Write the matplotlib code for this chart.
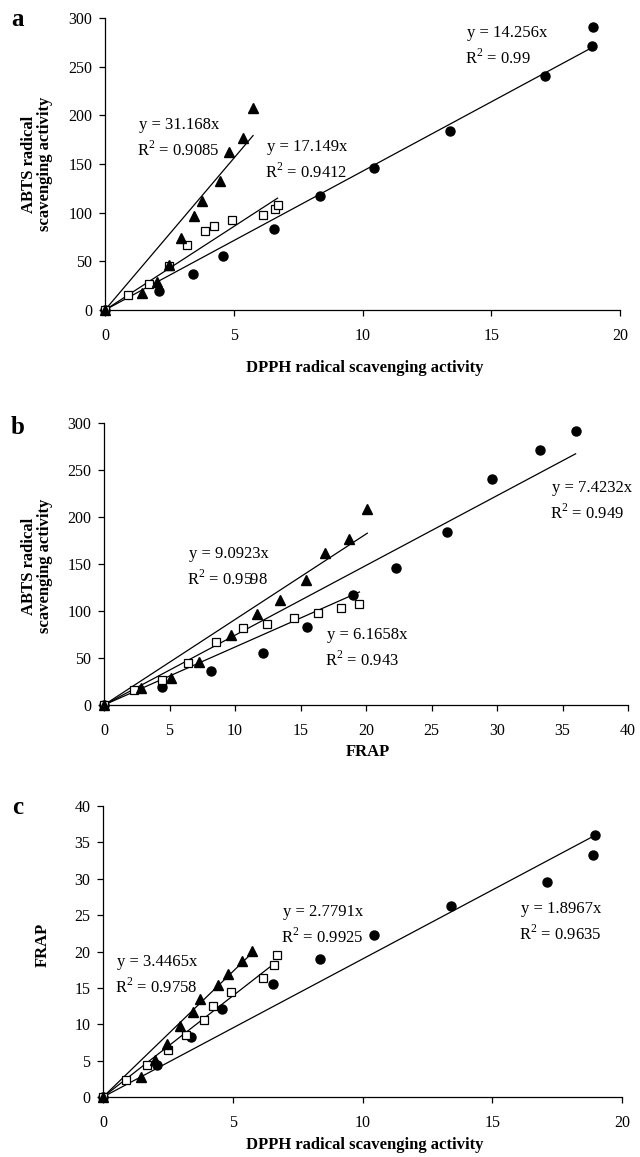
import numpy as np
import matplotlib.pyplot as plt

plt.rcParams['font.family'] = ['Liberation Serif', 'DejaVu Serif']
plt.rcParams['mathtext.fontset'] = 'custom'
plt.rcParams['mathtext.rm'] = 'Liberation Serif'

# sample series: triangles, open squares, circles
dpph_tri = [0, 1.45, 2.0, 2.48, 2.95, 3.45, 3.75, 4.45, 4.8, 5.35, 5.75]
abts_tri = [0, 17.8, 28.8, 46, 74, 97, 112, 133, 162, 177, 208]
frap_tri = [0, 2.8, 5.1, 7.25, 9.7, 11.65, 13.45, 15.4, 16.9, 18.7, 20.1]

dpph_sq = [0, 0.9, 1.7, 2.5, 3.2, 3.9, 4.25, 4.95, 6.15, 6.6, 6.7]
abts_sq = [0, 15.5, 26.5, 45, 67, 81.5, 86, 92.5, 98, 103.5, 107.5]
frap_sq = [0, 2.32, 4.4, 6.45, 8.55, 10.6, 12.45, 14.5, 16.3, 18.1, 19.5]

dpph_ci = [0, 2.1, 3.4, 4.6, 6.55, 8.35, 10.45, 13.4, 17.1, 18.9, 18.95]
abts_ci = [0, 19.5, 36.5, 55.5, 83.5, 117, 146, 184, 240, 271, 291]
frap_ci = [0, 4.4, 8.2, 12.1, 15.5, 19.0, 22.3, 26.2, 29.6, 33.3, 36.0]

# fitted slopes and R2 (triangle, square, circle) per panel
slopes_a = ['31.168', '17.149', '14.256']
r2_a = ['0.9085', '0.9412', '0.99']
slopes_b = ['9.0923', '6.1658', '7.4232']
r2_b = ['0.9598', '0.943', '0.949']
slopes_c = ['3.4465', '2.7791', '1.8967']
r2_c = ['0.9758', '0.9925', '0.9635']

W, H = 640, 1157
fig = plt.figure(figsize=(W / 100, H / 100), dpi=100)


def px_axes(x0, x1, y_top, y_bot):
    return fig.add_axes([x0 / W, 1 - y_bot / H, (x1 - x0) / W, (y_bot - y_top) / H])


def ftext(x, y, s, **kw):
    fig.text(x / W, 1 - y / H, s, **kw)


def panel(ax, xs, ys, slopes, xlim, ylim, xstep, ystep):
    mk = [dict(marker='^', ms=7, mfc='black', mec='black'),
          dict(marker='s', ms=6, mfc='white', mec='black', mew=0.9),
          dict(marker='o', ms=6.5, mfc='black', mec='black')]
    order = [2, 1, 0]
    for i in order:
        x = np.array(xs[i])
        k = float(slopes[i])
        ax.plot([0, x.max()], [0, k * x.max()], color='black', lw=0.9,
                clip_on=False, zorder=2)
    for i in order:
        ax.plot(xs[i], ys[i], ls='none', clip_on=False, zorder=3, **mk[i])
    ax.set_xlim(*xlim)
    ax.set_ylim(*ylim)
    ax.set_xticks(np.arange(xlim[0], xlim[1] + 0.1, xstep))
    ax.set_yticks(np.arange(ylim[0], ylim[1] + 0.1, ystep))
    for s in ['top', 'right']:
        ax.spines[s].set_visible(False)
    for s in ['left', 'bottom']:
        ax.spines[s].set_linewidth(0.9)
    ax.tick_params(direction='out', length=4, width=0.9, labelsize=11.5)
    ax.tick_params(axis='x', pad=9)
    ax.tick_params(axis='y', pad=5)


def eq(x, y, slope, r2):
    ftext(x, y, 'y = %sx' % slope, fontsize=12, ha='left', va='center')
    ftext(x - 2, y + 25, 'R$^2$ = %s' % r2, fontsize=12, ha='left', va='center')


# panel a
ax_a = px_axes(105, 620, 18, 310)
panel(ax_a, [dpph_tri, dpph_sq, dpph_ci], [abts_tri, abts_sq, abts_ci],
      slopes_a, (0, 20), (0, 300), 5, 50)
eq(139, 125, slopes_a[0], r2_a[0])
eq(267, 147, slopes_a[1], r2_a[1])
eq(467, 33, slopes_a[2], r2_a[2])
ftext(365, 368, 'DPPH radical scavenging activity', fontsize=12,
      fontweight='bold', ha='center', va='center')
ftext(37, 164, 'ABTS radical\nscavenging activity', fontsize=12,
      fontweight='bold', ha='center', va='center', rotation=90,
      linespacing=1.05)
ftext(18, 20, 'a', fontsize=18, fontweight='bold', ha='center', va='center')

# panel b
ax_b = px_axes(104, 628, 423, 705)
panel(ax_b, [frap_tri, frap_sq, frap_ci], [abts_tri, abts_sq, abts_ci],
      slopes_b, (0, 40), (0, 300), 5, 50)
eq(189, 554, slopes_b[0], r2_b[0])
eq(327, 635, slopes_b[1], r2_b[1])
eq(552, 488, slopes_b[2], r2_b[2])
ftext(368, 752, 'FRAP', fontsize=12, fontweight='bold', ha='center', va='center')
ftext(37, 566, 'ABTS radical\nscavenging activity', fontsize=12,
      fontweight='bold', ha='center', va='center', rotation=90,
      linespacing=1.05)
ftext(18, 428, 'b', fontsize=18, fontweight='bold', ha='center', va='center')

# panel c
ax_c = px_axes(103, 622, 806, 1097)
panel(ax_c, [dpph_tri, dpph_sq, dpph_ci], [frap_tri, frap_sq, frap_ci],
      slopes_c, (0, 20), (0, 40), 5, 5)
eq(117, 962, slopes_c[0], r2_c[0])
eq(283, 912, slopes_c[1], r2_c[1])
eq(521, 909, slopes_c[2], r2_c[2])
ftext(365, 1145, 'DPPH radical scavenging activity', fontsize=12,
      fontweight='bold', ha='center', va='center')
ftext(43, 945, 'FRAP', fontsize=12, fontweight='bold', ha='center',
      va='center', rotation=90)
ftext(18, 808, 'c', fontsize=18, fontweight='bold', ha='center', va='center')

fig.savefig('out.png', dpi=100)
